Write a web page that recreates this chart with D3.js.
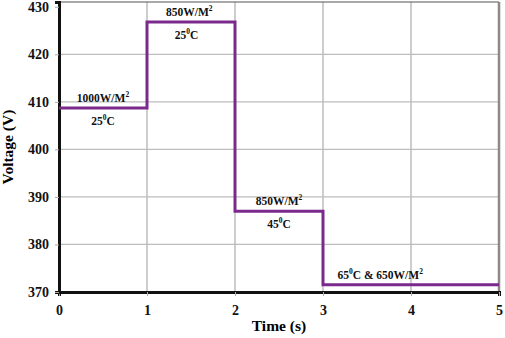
<!DOCTYPE html>
<html>
<head>
<meta charset="utf-8">
<script src="https://cdn.jsdelivr.net/npm/d3@7"></script>
<style>
  body { margin: 0; background: #fff; }
  text { font-family: "Liberation Serif", "Times New Roman", serif; font-weight: bold; }
  .tick text { font-size: 14px; }
  .annot { font-size: 11.5px; }
</style>
</head>
<body>
<div id="chart"></div>
<script>
// step profile: time (s) and voltage (V)
const stepTimes = [0, 1, 2, 3, 5];
const stepVolts = [408.7, 426.8, 387.0, 371.5, 371.5];

const xTicks = [0, 1, 2, 3, 4, 5];
const yTicks = [370, 380, 390, 400, 410, 420, 430];

// annotation text near each step
const annotations = [
  {t: 0.5, v: 408.7, side: 'above', pre: '1000W/M', sup: '2', post: ''},
  {t: 0.5, v: 408.7, side: 'below', pre: '25', sup: '0', post: 'C'},
  {t: 1.48, v: 426.8, side: 'above', pre: '850W/M', sup: '2', post: ''},
  {t: 1.45, v: 426.8, side: 'below', pre: '25', sup: '0', post: 'C'},
  {t: 2.5, v: 387.0, side: 'above', pre: '850W/M', sup: '2', post: ''},
  {t: 2.5, v: 387.0, side: 'below', pre: '45', sup: '0', post: 'C'},
  {t: 3.65, v: 371.5, side: 'above', pre: '65', sup: '0', post: 'C & 650W/M', sup2: '2'}
];

const width = 505, height = 338;
const margin = ({top: 2, right: 6, bottom: 46, left: 59});

const x = d3.scaleLinear().domain([0, 5]).range([margin.left, width - margin.right]);
const y = d3.scaleLinear().domain([370, 431]).range([height - margin.bottom, margin.top]);

const svg = d3.select('#chart').append('svg')
  .attr('width', width).attr('height', height);

// grid
svg.append('g').selectAll('line')
  .data(xTicks.slice(1, -1))
  .enter().append('line')
  .attr('x1', d => x(d)).attr('x2', d => x(d))
  .attr('y1', y(431)).attr('y2', y(370))
  .attr('stroke', '#bdbdbd').attr('stroke-width', 1.5);

svg.append('g').selectAll('line')
  .data(yTicks.slice(1, -1))
  .enter().append('line')
  .attr('x1', x(0)).attr('x2', x(5))
  .attr('y1', d => y(d)).attr('y2', d => y(d))
  .attr('stroke', '#bdbdbd').attr('stroke-width', 1.2);

// top + right frame
svg.append('line')
  .attr('x1', x(0)).attr('x2', x(5))
  .attr('y1', y(431)).attr('y2', y(431))
  .attr('stroke', '#555').attr('stroke-width', 1.2);
svg.append('line')
  .attr('x1', x(5)).attr('x2', x(5))
  .attr('y1', y(431)).attr('y2', y(370))
  .attr('stroke', '#8a8a8a').attr('stroke-width', 2.5);

// axes
const xAxis = d3.axisBottom(x).tickValues(xTicks).tickFormat(d3.format('d')).tickSize(4).tickPadding(9);
const yAxis = d3.axisLeft(y).tickValues(yTicks).tickFormat(d3.format('d')).tickSize(4).tickPadding(6);

svg.append('g')
  .attr('transform', `translate(0,${y(370)})`)
  .call(xAxis)
  .call(g => g.select('.domain').attr('stroke', '#111').attr('stroke-width', 3))
  .call(g => g.selectAll('.tick line').attr('stroke', '#aaa'))
  .call(g => g.selectAll('.tick text').attr('fill', '#111'));

svg.append('g')
  .attr('transform', `translate(${x(0)},0)`)
  .call(yAxis)
  .call(g => g.select('.domain').attr('stroke', '#111').attr('stroke-width', 3))
  .call(g => g.selectAll('.tick line').attr('stroke', '#aaa'))
  .call(g => g.selectAll('.tick text').attr('fill', '#111'));

// axis titles
svg.append('text')
  .attr('text-anchor', 'middle')
  .attr('x', (x(0) + x(5)) / 2).attr('y', 331)
  .style('font-size', '15.5px')
  .text('Time (s)');

svg.append('text')
  .attr('text-anchor', 'middle')
  .attr('transform', `translate(13,${(y(370) + y(431)) / 2}) rotate(-90)`)
  .style('font-size', '15.5px')
  .text('Voltage (V)');

// step line
const line = d3.line()
  .x(d => x(d[0]))
  .y(d => y(d[1]))
  .curve(d3.curveStepAfter);

svg.append('path')
  .datum(stepTimes.map((t, i) => [t, stepVolts[i]]))
  .attr('fill', 'none')
  .attr('stroke', '#7b2a8c')
  .attr('stroke-width', 3)
  .attr('d', line);

// annotations
annotations.forEach(a => {
  const t = svg.append('text')
    .attr('class', 'annot')
    .attr('text-anchor', 'middle')
    .attr('x', x(a.t))
    .attr('y', a.side === 'above' ? y(a.v) - 6 : y(a.v) + 17)
    .attr('fill', '#111');
  t.append('tspan').text(a.pre);
  t.append('tspan').attr('dy', -5).style('font-size', '7.5px').text(a.sup);
  t.append('tspan').attr('dy', 5).text(a.post);
  if (a.sup2) t.append('tspan').attr('dy', -5).style('font-size', '7.5px').text(a.sup2);
});
</script>
</body>
</html>
